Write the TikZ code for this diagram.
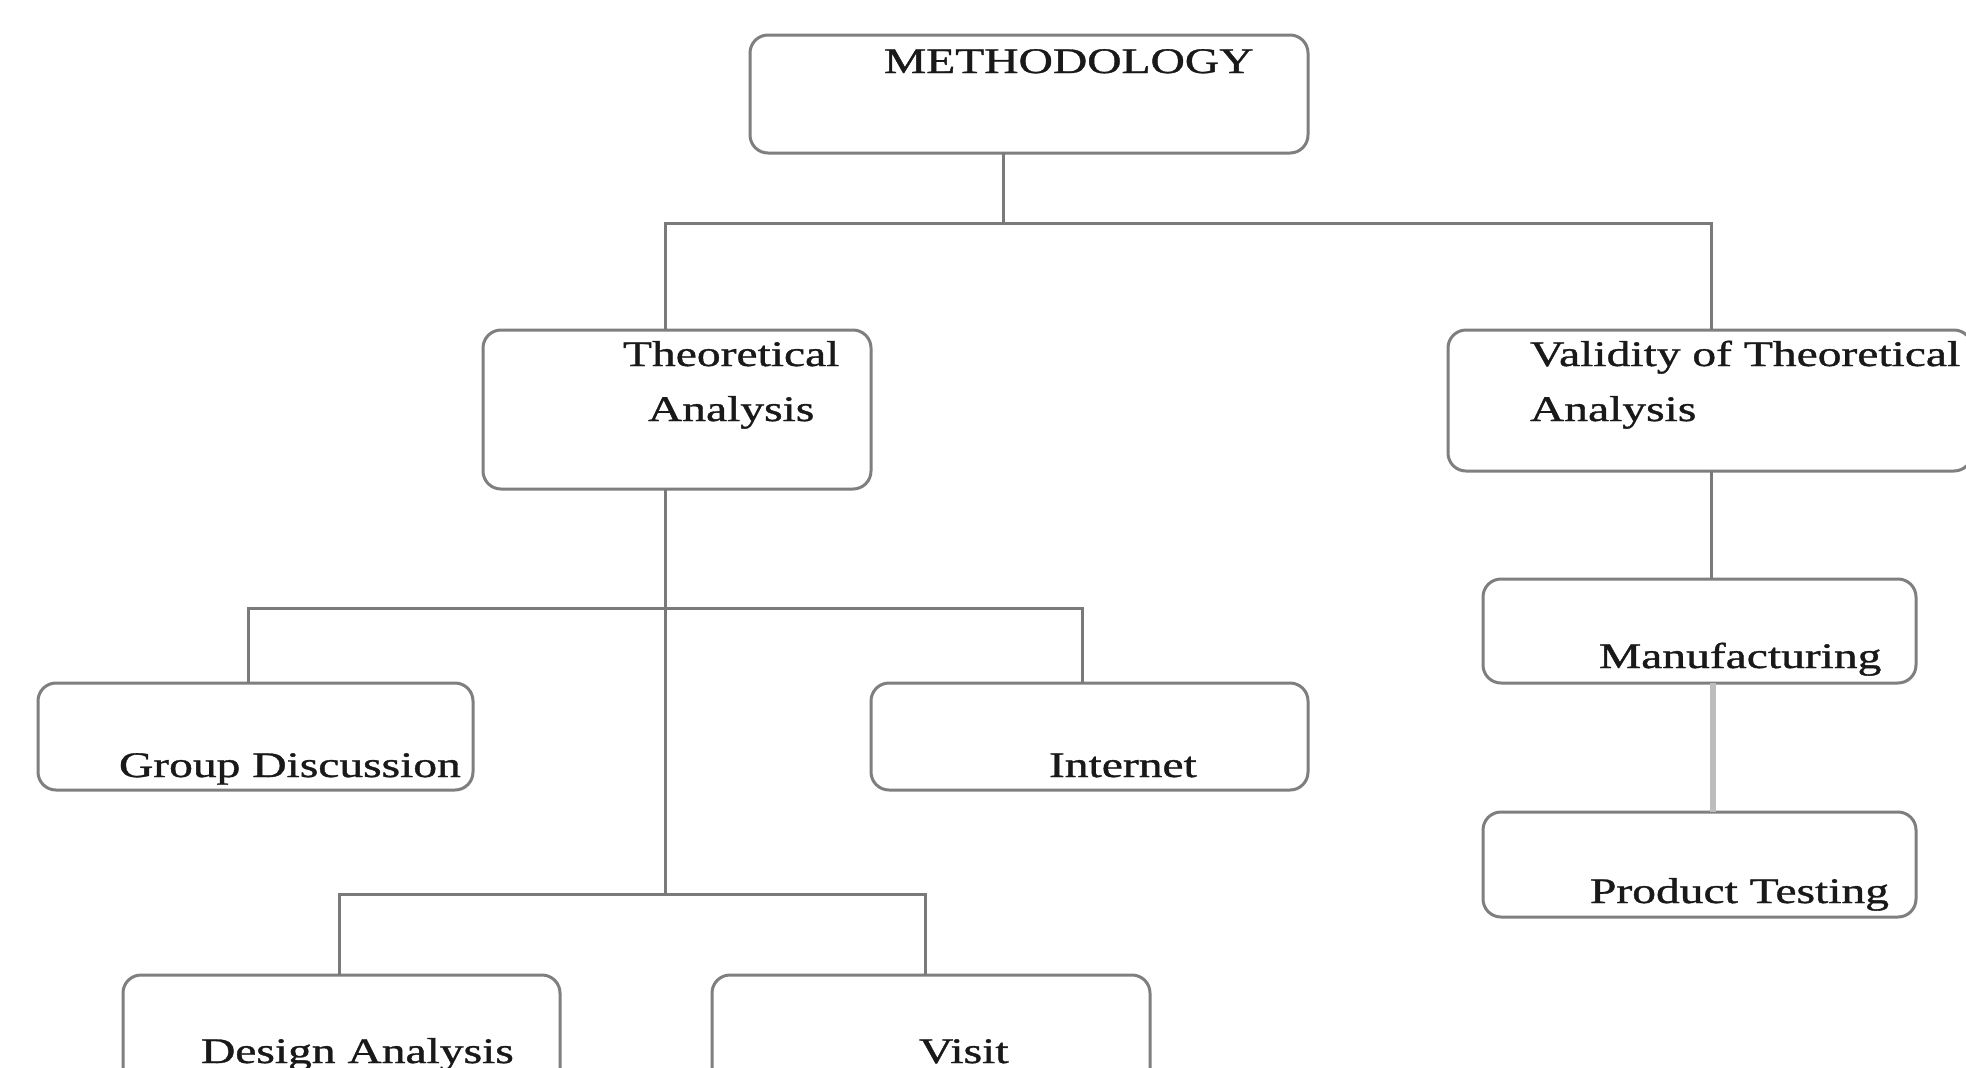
\documentclass[tikz,border=0pt]{standalone}
\usepackage{graphicx}
\usepackage{fontspec}
\setmainfont{Liberation Serif}
\newfontfamily\labelfont[FakeBold=0.9]{Liberation Serif}
\usetikzlibrary{fit}
\definecolor{boxgray}{HTML}{7F7F7F}
\definecolor{linkgray}{HTML}{7A7A7A}
\definecolor{softgray}{HTML}{BDBDBD}
% labels are set a little wider than the font's natural width
\newcommand{\widelabel}[1]{\scalebox{1.32}[1]{#1}}
\begin{document}
\begin{tikzpicture}[x=0.5pt,y=-0.5pt,
  box/.style={draw=boxgray, line width=1.5pt, rounded corners=9pt, inner sep=0pt, outer sep=0pt},
  link/.style={draw=linkgray, line width=1.5pt},
  softlink/.style={draw=softgray, line width=2.6pt},
  lbl/.style={anchor=base west, inner sep=0pt, outer sep=0pt, font=\labelfont\fontsize{18}{20}\selectfont, text=black!90}]

\useasboundingbox (0,0) rectangle (1966,1067);
\clip (0,0) rectangle (1966,1067);
\fill[white] (0,0) rectangle (1966,1067);

% boxes
\node[box, fit={(750,35) (1308,153)}] (meth) {};
\node[box, fit={(483,330) (871,489)}] (theo) {};
\node[box, fit={(1448,330) (1972,471)}] (valid) {};
\node[box, fit={(1483,579) (1916,683)}] (manu) {};
\node[box, fit={(1483,812) (1916,917)}] (prod) {};
\node[box, fit={(38,683) (473,790)}] (group) {};
\node[box, fit={(871,683) (1308,790)}] (inet) {};
\node[box, fit={(123,975) (560,1110)}] (design) {};
\node[box, fit={(712,975) (1150,1110)}] (visit) {};

% labels
\node[lbl] (tmeth) at (884,73) {\widelabel{METHODOLOGY}};
\node[lbl] (ttheoa) at (623,366) {\widelabel{Theoretical}};
\node[lbl] (ttheob) at (648,421) {\widelabel{Analysis}};
\node[lbl] (tvala) at (1530,366) {\widelabel{Validity of Theoretical}};
\node[lbl] (tvalb) at (1530,421) {\widelabel{Analysis}};
\node[lbl] (tmanu) at (1599,668) {\widelabel{Manufacturing}};
\node[lbl] (tprod) at (1590,903) {\widelabel{Product Testing}};
\node[lbl] (tgroup) at (119,777) {\widelabel{Group Discussion}};
\node[lbl] (tinet) at (1049,777) {\widelabel{Internet}};
\node[lbl] (tdesign) at (201,1063) {\widelabel{Design Analysis}};
\node[lbl] (tvisit) at (919,1063) {\widelabel{Visit}};

% junction points
\coordinate (jtop) at (1003,223);
\coordinate (jl) at (665,223);
\coordinate (jr) at (1711,223);
\coordinate (jmid) at (665,608);
\coordinate (jmidl) at (248,608);
\coordinate (jmidr) at (1082,608);
\coordinate (jlow) at (665,894);
\coordinate (jlowl) at (339,894);
\coordinate (jlowr) at (925,894);

% connectors
\draw[link] (jtop |- meth.south) -- (jtop);
\draw[link] (jl |- theo.north) -- (jl) -- (jr) -- (jr |- valid.north);
\draw[link] (jl |- theo.south) -- (jlow);
\draw[link] (jmidl |- group.north) -- (jmidl) -- (jmidr) -- (jmidr |- inet.north);
\draw[link] (jlowl |- design.north) -- (jlowl) -- (jlowr) -- (jlowr |- visit.north);
\draw[link] (jr |- valid.south) -- (jr |- manu.north);
\draw[softlink] ([xshift=1pt]jr |- manu.south) -- ([xshift=1pt]jr |- prod.north);
\end{tikzpicture}
\end{document}
